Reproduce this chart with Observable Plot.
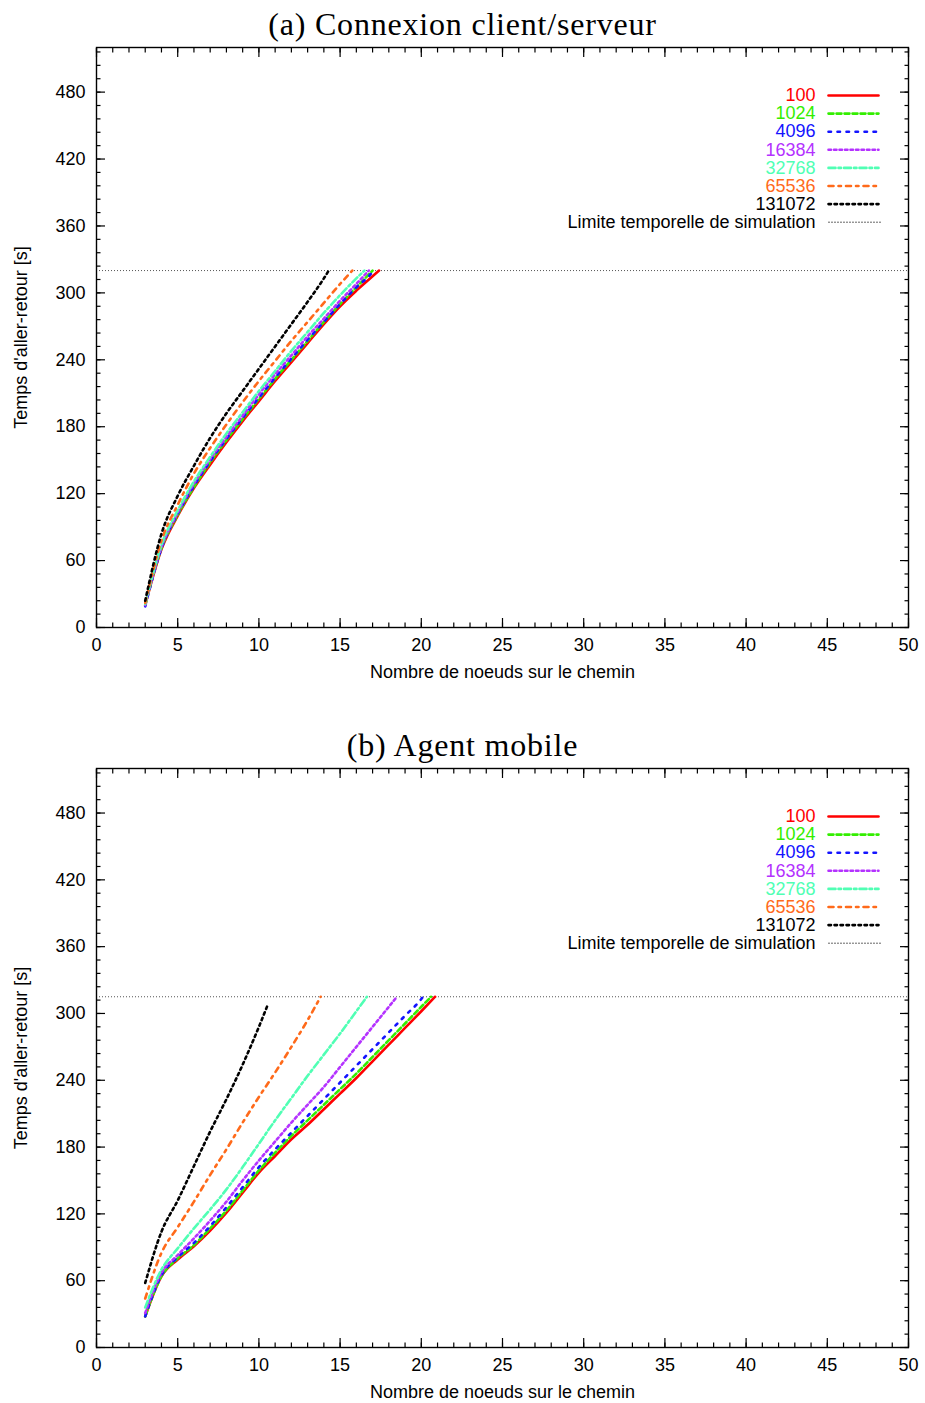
<!DOCTYPE html>
<html><head><meta charset="utf-8">
<script src="https://cdn.jsdelivr.net/npm/d3@7"></script>
<script src="https://cdn.jsdelivr.net/npm/@observablehq/plot@0.6"></script>
<style>
body{margin:0;background:#fff;width:925px;height:1403px;position:relative;overflow:hidden}
.title{position:absolute;left:0;width:925px;text-align:center;font-family:"Liberation Serif","Times New Roman",serif;font-size:32px;letter-spacing:0.8px;line-height:32px;color:#000;z-index:2}
.panel{position:absolute;left:0;z-index:1}
</style></head><body>
<div id="a" class="panel" style="top:0px"></div>
<div id="b" class="panel" style="top:720px"></div>
<div class="title" id="ta" style="top:8px"></div>
<div class="title" id="tb" style="top:729px"></div>
<script>
// ---- data ----
const titles = ["(a) Connexion client/serveur", "(b) Agent mobile"];
const xLabel = "Nombre de noeuds sur le chemin";
const yLabel = "Temps d'aller-retour [s]";
const seriesNames = ["100", "1024", "4096", "16384", "32768", "65536", "131072"];
const limitLabel = "Limite temporelle de simulation";
const xTicks = [0, 5, 10, 15, 20, 25, 30, 35, 40, 45, 50];
const yTicks = [0, 60, 120, 180, 240, 300, 360, 420, 480];
const limitA = 320;
const limitB = 315;

// panel (a): [nodes, time]
const a100    = [[3,20],[4,70],[5,100],[6,125],[7,146],[8,166],[9,185],[10,203],[11,221],[12,238],[13,255],[14,272],[15,288],[16,302],[17,315],[17.4,320]];
const a1024   = [[3,20],[4,71],[5,101],[6,126],[7,148],[8,168],[9,187],[10,205],[11,223],[12,240],[13,257],[14,274],[15,290],[16,305],[17,320]];
const a4096   = [[3,19],[4,71],[5,102],[6,127],[7,149],[8,169],[9,188],[10,206],[11,224],[12,241],[13,258],[14,274],[15,290],[16,305],[17,319],[17.05,320]];
const a16384  = [[3,20],[4,72],[5,103],[6,129],[7,151],[8,171],[9,190],[10,209],[11,227],[12,244],[13,261],[14,277],[15,293],[16,308],[16.77,320]];
const a32768  = [[3,21],[4,74],[5,105],[6,131],[7,153],[8,174],[9,193],[10,212],[11,230],[12,248],[13,265],[14,282],[15,298],[16,313],[16.5,320]];
const a65536  = [[3,22],[4,78],[5,110],[6,138],[7,161],[8,182],[9,202],[10,221],[11,239],[12,257],[13,274],[14,291],[15,308],[15.75,320]];
const a131072 = [[3,24],[4,84],[5,118],[6,145],[7,170],[8,192],[9,212],[10,232],[11,252],[12,272],[13,292],[14,313],[14.3,320]];

// panel (b)
const b100    = [[3,28],[4,64],[5,79],[6,91],[7,105],[8,121],[9,139],[10,157],[11,172],[12,187],[13,200],[14,214],[15,228],[16,242],[17,257],[18,272],[19,287],[20,302],[20.85,315]];
const b1024   = [[3,28],[4,64],[5,80],[6,92],[7,107],[8,123],[9,141],[10,159],[11,175],[12,190],[13,204],[14,218],[15,232],[16,246],[17,261],[18,276],[19,291],[20,306],[20.6,315]];
const b4096   = [[3,28],[4,65],[5,81],[6,94],[7,109],[8,126],[9,144],[10,162],[11,178],[12,193],[13,208],[14,223],[15,238],[16,253],[17,268],[18,283],[19,298],[20,313],[20.1,315]];
const b16384  = [[3,31],[4,67],[5,83],[6,98],[7,114],[8,131],[9,150],[10,168],[11,185],[12,202],[13,218],[14,234],[15,252],[16,270],[17,288],[18,306],[18.5,315]];
const b32768  = [[3,36],[4,70],[5,89],[6,107],[7,124],[8,142],[9,162],[10,183],[11,204],[12,224],[13,244],[14,263],[15,282],[16,302],[16.65,315]];
const b65536  = [[3,44],[4,85],[5,108],[6,131],[7,155],[8,178],[9,202],[10,225],[11,247],[12,270],[13,294],[13.8,315]];
const b131072 = [[3,58],[4,104],[5,132],[6,163],[7,194],[8,223],[9,254],[10,288],[10.55,308]];

const colors = ["#ff0000", "#33ee00", "#1414ff", "#b432ff", "#50ffb4", "#ff6a1a", "#000000"];
const dashes = [null, "5,3", "2.5,6.5", "2.5,3", "7,3,2.5,3", "5,5,2.5,5", "2.5,3.5"];

// ---- drawing ----
const sans = "'Liberation Sans', Arial, Helvetica, sans-serif";
const fs = 18;
const seg = {draw(ctx, l) { ctx.moveTo(0, 0); ctx.lineTo(0, -l); }};
const xMinor = d3.range(0, 51, 1);
const yMinor = d3.range(0, 521, 12);

function panel(series, limit, height, marginTop, marginBottom) {
  const marks = [];
  marks.push(Plot.ruleY([limit], {stroke: "#555", strokeWidth: 1, strokeDasharray: "1,2"}));
  series.forEach((s, i) => {
    marks.push(Plot.line(s, {x: d => d[0], y: d => d[1], stroke: colors[i], strokeWidth: 2.6,
      strokeDasharray: dashes[i], curve: "monotone-x"}));
  });
  marks.push(Plot.frame({stroke: "#000", strokeWidth: 1.4}));
  for (const anchor of ["bottom", "top"]) {
    marks.push(Plot.axisX({anchor, ticks: xTicks, tickSize: -9, tickFormat: () => "", strokeWidth: 1.2}));
    marks.push(Plot.axisX({anchor, ticks: xMinor, tickSize: -4.5, tickFormat: () => "", strokeWidth: 1.2}));
  }
  for (const anchor of ["left", "right"]) {
    marks.push(Plot.axisY({anchor, ticks: yTicks, tickSize: -9, tickFormat: () => "", strokeWidth: 1.2}));
    marks.push(Plot.axisY({anchor, ticks: yMinor, tickSize: -4.5, tickFormat: () => "", strokeWidth: 1.2}));
  }
  marks.push(Plot.axisX({anchor: "bottom", ticks: xTicks, tickSize: 0, tickPadding: 11, fontSize: fs, fill: "#000"}));
  marks.push(Plot.axisY({anchor: "left", ticks: yTicks, tickSize: 0, tickPadding: 11, fontSize: fs, fill: "#000"}));
  marks.push(Plot.text([xLabel], {frameAnchor: "bottom", dy: 45, lineAnchor: "middle", textAnchor: "middle",
    text: d => d, fontSize: fs, fill: "#000"}));
  marks.push(Plot.text([yLabel], {frameAnchor: "left", dx: -75, rotate: -90, lineAnchor: "middle", textAnchor: "middle",
    text: d => d, fontSize: fs, fill: "#000"}));
  const rowH = 18.1;
  seriesNames.forEach((name, i) => {
    marks.push(Plot.text([name], {frameAnchor: "top-right", dx: -93, dy: 48 + rowH * i, textAnchor: "end",
      lineAnchor: "middle", text: d => d, fill: colors[i], fontSize: fs}));
    marks.push(Plot.vector([name], {frameAnchor: "top-right", dx: -80, dy: 48 + rowH * i, rotate: 90, length: 50,
      anchor: "start", shape: seg, stroke: colors[i], strokeWidth: 2.6, strokeDasharray: dashes[i]}));
  });
  const li = seriesNames.length;
  marks.push(Plot.text([limitLabel], {frameAnchor: "top-right", dx: -93, dy: 48 + rowH * li, textAnchor: "end",
    lineAnchor: "middle", text: d => d, fill: "#000", fontSize: fs}));
  marks.push(Plot.vector([limitLabel], {frameAnchor: "top-right", dx: -80, dy: 48 + rowH * li, rotate: 90, length: 52,
    anchor: "start", shape: seg, stroke: "#555", strokeWidth: 1, strokeDasharray: "1,2"}));

  return Plot.plot({
    width: 925, height,
    marginLeft: 96, marginRight: 17, marginTop, marginBottom,
    style: {fontFamily: sans, background: "transparent", overflow: "visible"},
    x: {domain: [0, 50], axis: null},
    y: {domain: [0, 520], axis: null},
    marks
  });
}

document.getElementById("ta").textContent = titles[0];
document.getElementById("tb").textContent = titles[1];
document.getElementById("a").append(panel([a100, a1024, a4096, a16384, a32768, a65536, a131072], limitA, 700, 47, 73));
document.getElementById("b").append(panel([b100, b1024, b4096, b16384, b32768, b65536, b131072], limitB, 683, 48, 56));
</script>
</body></html>
